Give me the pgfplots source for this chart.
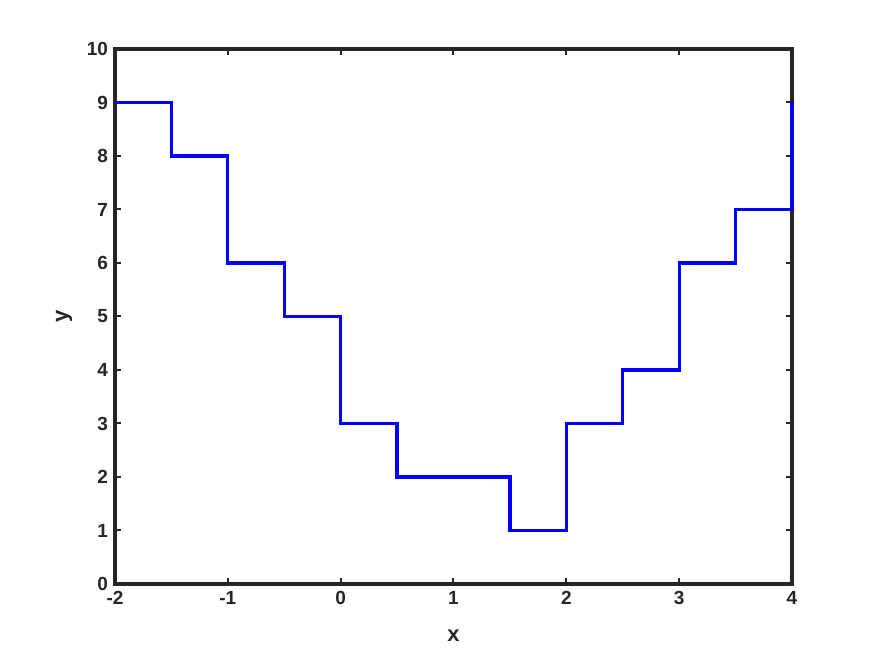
\documentclass[border=0pt]{standalone}
\usepackage{fontspec}
\setmainfont{Liberation Sans}
\usepackage{pgfplots}
\pgfplotsset{compat=1.18}
\definecolor{axgray}{RGB}{38,38,38}

\begin{document}
\begin{tikzpicture}[x=0.5pt,y=0.5pt]
% canvas 875x656 px
\path (0,0) rectangle (875,656);
\begin{axis}[
  at={(115pt*0.5,72pt*0.5)},
  anchor=south west,
  scale only axis,
  width=338.5pt,
  height=267.5pt,
  xmin=-2, xmax=4,
  ymin=0, ymax=10,
  xtick={-2,-1,0,1,2,3,4},
  ytick={0,1,...,10},
  tick align=inside,
  major tick length=3pt,
  axis line style={axgray, line width=1.6pt},
  tick style={axgray, line width=1pt},
  every tick label/.append style={font=\bfseries\fontsize{9.5}{10}\selectfont, text=axgray},
  /pgf/number format/assume math mode=true,
  xlabel={x}, ylabel={y},
  label style={font=\bfseries\fontsize{11}{12}\selectfont, text=axgray},
  xlabel style={yshift=-6pt},
  ylabel style={yshift=0.5pt},
  clip=false,
]
\addplot[const plot, blue, line width=1.6pt] coordinates {
  (-2,9) (-1.5,8) (-1,6) (-0.5,5) (0,3) (0.5,2) (1,2) (1.5,1)
  (2,3) (2.5,4) (3,6) (3.5,7) (4,9)
};
\end{axis}
\end{tikzpicture}
\end{document}
